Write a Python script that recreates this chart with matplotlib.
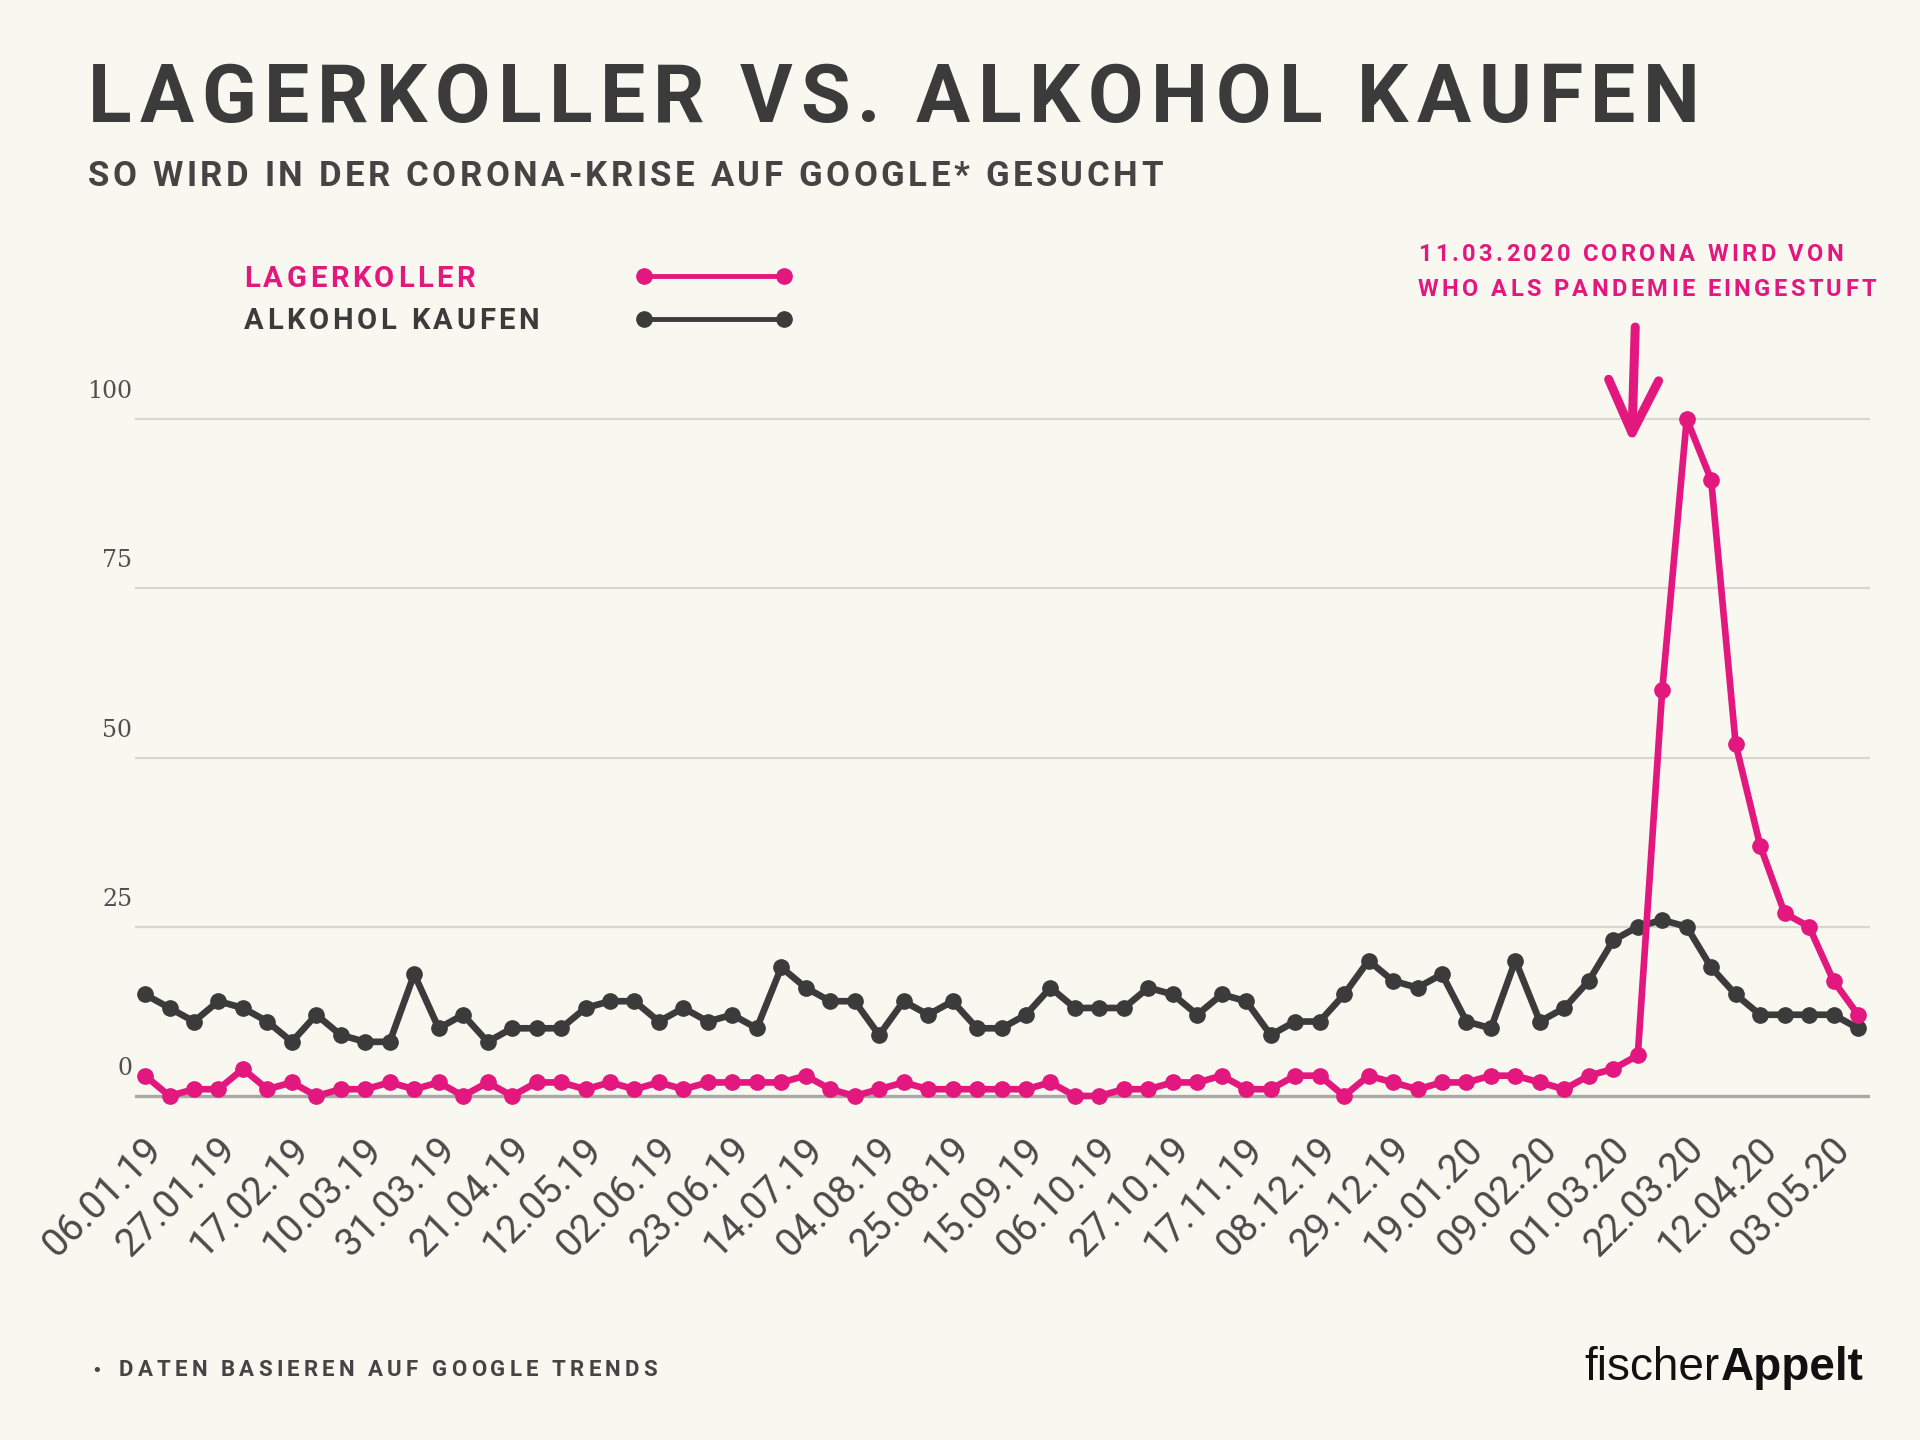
import matplotlib
matplotlib.use("Agg")
import matplotlib.pyplot as plt
from matplotlib.lines import Line2D
from matplotlib.transforms import ScaledTranslation

# Wochenwerte (Google Trends, Index 0-100), 30.12.18 bis 03.05.20
weeks = list(range(71))
lagerkoller = [3, 0, 1, 1, 4, 1, 2, 0, 1, 1, 2, 1, 2, 0, 2, 0, 2, 2, 1, 2,
               1, 2, 1, 2, 2, 2, 2, 3, 1, 0, 1, 2, 1, 1, 1, 1, 1, 2, 0, 0,
               1, 1, 2, 2, 3, 1, 1, 3, 3, 0, 3, 2, 1, 2, 2, 3, 3, 2, 1, 3,
               4, 6, 60, 100, 91, 52, 37, 27, 25, 17, 12]
alkohol = [15, 13, 11, 14, 13, 11, 8, 12, 9, 8, 8, 18, 10, 12, 8, 10, 10, 10, 13, 14,
           14, 11, 13, 11, 12, 10, 19, 16, 14, 14, 9, 14, 12, 14, 10, 10, 12, 16, 13, 13,
           13, 16, 15, 12, 15, 14, 9, 11, 11, 15, 20, 17, 16, 18, 11, 10, 20, 11, 13, 17,
           23, 25, 26, 25, 19, 15, 12, 12, 12, 12, 10]
tick_pos = weeks[1::3]
tick_labels = ["06.01.19", "27.01.19", "17.02.19", "10.03.19", "31.03.19", "21.04.19",
               "12.05.19", "02.06.19", "23.06.19", "14.07.19", "04.08.19", "25.08.19",
               "15.09.19", "06.10.19", "27.10.19", "17.11.19", "08.12.19", "29.12.19",
               "19.01.20", "09.02.20", "01.03.20", "22.03.20", "12.04.20", "03.05.20"]
y_ticks = [0, 25, 50, 75, 100]

PINK = "#e2187f"
DARK = "#3b3b3b"
BG = "#f8f7f0"
W, H = 1920, 1440

fig = plt.figure(figsize=(19.2, 14.4), dpi=100, facecolor=BG)
renderer = fig.canvas.get_renderer()


def px(x, y):
    # Pixel (von oben links) -> Figure-Koordinaten
    return x / W, 1 - y / H


def text_width(s, **kw):
    t = fig.text(0, 0, s, **kw)
    w = t.get_window_extent(renderer).width
    t.remove()
    return w


def tracked(x, y, s, right, **kw):
    # Text mit Laufweite, so dass er von x bis right reicht
    base = text_width("||", **kw)
    widths = [text_width("|" + c + "|", **kw) - base for c in s]
    gap = (right - x - sum(widths)) / (len(s) - 1)
    for c, w in zip(s, widths):
        fig.text(*px(x, y), c, va="baseline", ha="left", **kw)
        x += w + gap


# Achse
ax = fig.add_axes([135 / W, 0.2248, 1735 / W, 0.5594])
ax.set_facecolor(BG)
ax.plot(weeks, alkohol, color=DARK, lw=4.8, marker="o", ms=11, zorder=3, clip_on=False)
ax.plot(weeks, lagerkoller, color=PINK, lw=4.8, marker="o", ms=11, zorder=4, clip_on=False)
ax.set_xlim(-0.41, 70.49)
ax.set_ylim(-3, 116)
for s in ax.spines.values():
    s.set_visible(False)

ax.set_yticks(y_ticks)
ax.set_yticklabels([str(v) for v in y_ticks], family="DejaVu Serif", fontsize=17, color="#505050")
ax.tick_params(axis="y", length=0, pad=2)
ax.grid(axis="y", color="#d6d6d2", lw=1.6, zorder=0)
ax.get_ygridlines()[0].set_color("#a8a8a4")
ax.get_ygridlines()[0].set_linewidth(2.4)
for lbl in ax.get_yticklabels():
    lbl.set_transform(lbl.get_transform() + ScaledTranslation(0, 0.30, fig.dpi_scale_trans))

ax.set_xticks(tick_pos)
ax.set_xticklabels(tick_labels, rotation=45, ha="right", family="Roboto",
                   fontsize=28, color="#4a4a4a")
ax.tick_params(axis="x", length=0, pad=10)

# Pfeil zum 11.03.2020
ax.annotate("", xy=(60.75, 96), xytext=(60.9, 114),
            arrowprops=dict(arrowstyle="->,head_length=1.9,head_width=0.9",
                            mutation_scale=20, color=PINK, lw=6.5, capstyle="round"),
            annotation_clip=False)

# Titel
tracked(88, 122, "LAGERKOLLER VS. ALKOHOL KAUFEN", 1700,
        family="Roboto", fontsize=58, fontweight="bold", color=DARK)
tracked(88, 186, "SO WIRD IN DER CORONA-KRISE AUF GOOGLE* GESUCHT", 1163,
        family="Roboto", fontsize=25, fontweight="bold", color="#444444")

# Legende
tracked(244, 287, "LAGERKOLLER", 475, family="Roboto", fontsize=21,
        fontweight="bold", color=PINK)
tracked(244, 329, "ALKOHOL KAUFEN", 539, family="Roboto", fontsize=21,
        fontweight="bold", color=DARK)
for yy, col in [(276, PINK), (319, DARK)]:
    fig.add_artist(Line2D([644 / W, 784 / W], [1 - yy / H] * 2, color=col,
                          lw=3.5, marker="o", ms=11))

# Anmerkung
tracked(1418, 261, "11.03.2020 CORONA WIRD VON", 1843, family="Roboto",
        fontsize=17, fontweight="bold", color=PINK)
tracked(1418, 296, "WHO ALS PANDEMIE EINGESTUFT", 1876, family="Roboto",
        fontsize=17, fontweight="bold", color=PINK)

# Fussnote
fig.text(*px(91, 1376), "\u2022", family="DejaVu Sans", fontsize=13, color="#444444",
         va="baseline")
tracked(119, 1376, "DATEN BASIEREN AUF GOOGLE TRENDS", 657, family="Roboto",
        fontsize=16, fontweight="bold", color="#444444")

# Logo
t = fig.text(*px(1864, 1380), "Appelt", family="Liberation Sans", fontsize=33,
             fontweight="bold", color="#111111", ha="right", va="baseline")
left = t.get_window_extent(renderer).x0
fig.text(left / W - 0.001, 1 - 1380 / H, "fischer", family="Liberation Sans", fontsize=33,
         color="#111111", ha="right", va="baseline")

fig.savefig("out.png", dpi=100, facecolor=BG)
